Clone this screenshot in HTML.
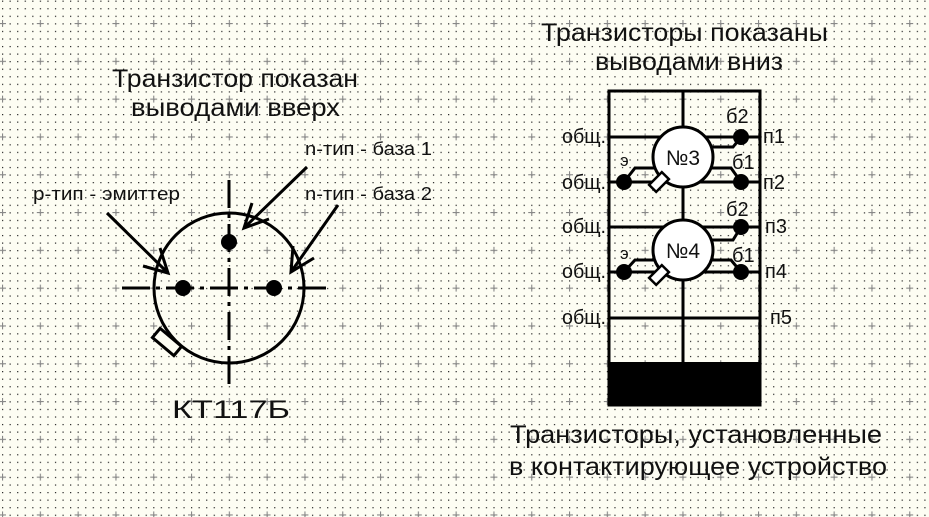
<!DOCTYPE html>
<html><head><meta charset="utf-8"><style>
body{margin:0;background:#fdfdf3;}
svg{display:block;font-family:"Liberation Sans","DejaVu Sans",sans-serif;}
</style></head><body>
<svg width="929" height="517" viewBox="0 0 929 517">
<defs>
<pattern id="dots" x="2" y="0.6" width="7.56" height="7.56" patternUnits="userSpaceOnUse"><rect x="0" y="0" width="1.2" height="1.2" fill="#222"/></pattern>
<pattern id="cross" x="2" y="23" width="37.8" height="37.8" patternUnits="userSpaceOnUse"><path d="M-3,0.5H4M0.5,-3V4" stroke="#888" stroke-width="1.2"/><path d="M34.8,0.5H41M0.5,34.8V41" stroke="#888" stroke-width="1.2"/></pattern>
</defs>
<rect width="929" height="517" fill="#fdfdf3"/>
<rect width="929" height="517" fill="url(#dots)"/>
<rect width="929" height="517" fill="url(#cross)"/>

<g fill="#111" font-size="25">
<text x="112" y="87" textLength="246" lengthAdjust="spacingAndGlyphs">Транзистор показан</text>
<text x="131" y="116" textLength="209" lengthAdjust="spacingAndGlyphs">выводами вверх</text>
<text x="541" y="41" textLength="287" lengthAdjust="spacingAndGlyphs">Транзисторы показаны</text>
<text x="595" y="70" textLength="188" lengthAdjust="spacingAndGlyphs">выводами вниз</text>
<text x="172" y="418" textLength="118" lengthAdjust="spacingAndGlyphs">КТ117Б</text>
<text x="510" y="443" textLength="372" lengthAdjust="spacingAndGlyphs">Транзисторы, установленные</text>
<text x="509" y="475" textLength="378" lengthAdjust="spacingAndGlyphs">в контактирующее устройство</text>
</g>
<g fill="#111" font-size="18">
<text x="305" y="155" textLength="127" lengthAdjust="spacingAndGlyphs">n-тип - база 1</text>
<text x="305" y="200" textLength="127" lengthAdjust="spacingAndGlyphs">n-тип - база 2</text>
<text x="33" y="200" textLength="147" lengthAdjust="spacingAndGlyphs">p-тип - эмиттер</text>
</g>

<g stroke="#000" stroke-width="3" fill="none">
<line x1="229" y1="180" x2="229" y2="385" stroke-dasharray="28,6,4,6"/>
<line x1="122" y1="288" x2="332" y2="288" stroke-dasharray="28,6,4,6"/>
<circle cx="229" cy="288" r="75" fill="none"/>
<rect x="-14" y="-6" width="28" height="12" fill="#fdfdf3" transform="translate(167,342) rotate(40)"/>
<path d="M107,213L168,273M160,248L168,273L143,266"/>
<path d="M307,167L244,228M252,203L244,228L269,219"/>
<path d="M338,205L291,272M293,246L291,272L314,258"/>
</g>
<g fill="#000">
<circle cx="229" cy="242" r="8"/>
<circle cx="183" cy="288" r="8"/>
<circle cx="274" cy="288" r="8"/>
</g>

<g stroke="#000" stroke-width="3" fill="none">
<rect x="609" y="91" width="151" height="314"/>
<line x1="683" y1="91" x2="683" y2="362"/>
<line x1="609" y1="137" x2="760" y2="137"/>
<line x1="609" y1="182" x2="760" y2="182"/>
<line x1="609" y1="227" x2="760" y2="227"/>
<line x1="609" y1="272" x2="760" y2="272"/>
<line x1="609" y1="318" x2="760" y2="318"/>
</g>
<rect x="609" y="362" width="151" height="43" fill="#000"/>

<g>
<g stroke="#000" stroke-width="3" fill="none">
<path d="M710,147H733L741,137"/><path d="M712,168H731L741,182"/>
<path d="M655,168H635L624,182"/>
</g>
<circle cx="683" cy="157" r="30" fill="#fff" stroke="#000" stroke-width="3"/>
<rect x="-9" y="-5" width="18" height="10" fill="#fff" stroke="#000" stroke-width="2.5" transform="translate(659,182) rotate(-45)"/>
<text x="683" y="165" text-anchor="middle" font-size="21" fill="#111">№3</text>
<circle cx="741" cy="137" r="8" fill="#000"/><circle cx="741" cy="182" r="8" fill="#000"/><circle cx="624" cy="182" r="8" fill="#000"/>
</g>
<g>
<g stroke="#000" stroke-width="3" fill="none">
<path d="M710,240H733L741,227"/><path d="M712,260H731L741,272"/>
<path d="M655,260H635L624,272"/>
</g>
<circle cx="683" cy="250" r="30" fill="#fff" stroke="#000" stroke-width="3"/>
<rect x="-9" y="-5" width="18" height="10" fill="#fff" stroke="#000" stroke-width="2.5" transform="translate(659,275) rotate(-45)"/>
<text x="683" y="258" text-anchor="middle" font-size="21" fill="#111">№4</text>
<circle cx="741" cy="227" r="8" fill="#000"/><circle cx="741" cy="272" r="8" fill="#000"/><circle cx="624" cy="272" r="8" fill="#000"/>
</g>

<g fill="#111" font-size="20">
<text x="562" y="143" textLength="44" lengthAdjust="spacingAndGlyphs">общ.</text>
<text x="562" y="189" textLength="44" lengthAdjust="spacingAndGlyphs">общ.</text>
<text x="562" y="233" textLength="44" lengthAdjust="spacingAndGlyphs">общ.</text>
<text x="562" y="278" textLength="44" lengthAdjust="spacingAndGlyphs">общ.</text>
<text x="562" y="324" textLength="44" lengthAdjust="spacingAndGlyphs">общ.</text>
<text x="763" y="143">п1</text>
<text x="763" y="189">п2</text>
<text x="765" y="233">п3</text>
<text x="765" y="278">п4</text>
<text x="770" y="324">п5</text>
<text x="726" y="123">б2</text>
<text x="732" y="169">б1</text>
<text x="620" y="166" font-size="17">э</text>
<text x="726" y="216">б2</text>
<text x="732" y="262">б1</text>
<text x="620" y="259" font-size="17">э</text>
</g>
</svg>
</body></html>
